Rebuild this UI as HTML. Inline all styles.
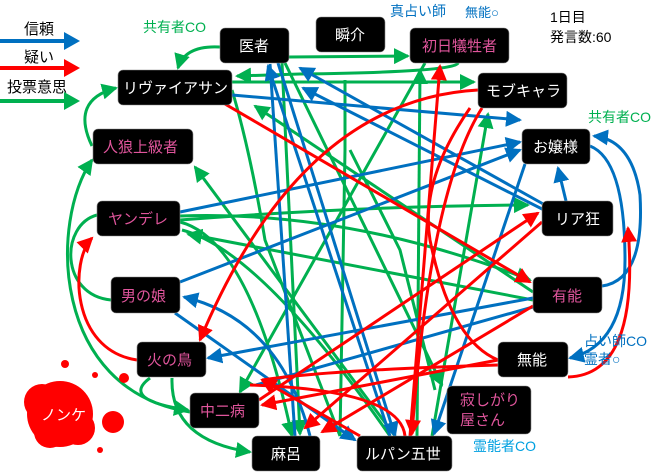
<!DOCTYPE html>
<html><head><meta charset="utf-8"><style>
html,body{margin:0;padding:0;background:#fff}
svg{display:block}
text{font-family:"Liberation Sans","Noto Sans CJK JP",sans-serif}
.n{fill:#000;stroke:#888;stroke-width:0.6}
.w{fill:#fff;font-size:15px}
.p{fill:#e0559c;font-size:15px}
.b path,.b line{stroke:#0070c0}
.r path,.r line{stroke:#ff0000}
.g path,.g line{stroke:#00b050}
g path,g line{fill:none;stroke-width:3}
</style></head><body>
<svg width="660" height="474" viewBox="0 0 660 474" xmlns="http://www.w3.org/2000/svg">
<defs>
<marker id="mb" markerUnits="userSpaceOnUse" markerWidth="16" markerHeight="16" refX="14" refY="8" orient="auto"><path d="M0,0 L16,8 L0,16 z" fill="#0070c0"/></marker>
<marker id="mr" markerUnits="userSpaceOnUse" markerWidth="16" markerHeight="16" refX="14" refY="8" orient="auto"><path d="M0,0 L16,8 L0,16 z" fill="#ff0000"/></marker>
<marker id="mg" markerUnits="userSpaceOnUse" markerWidth="16" markerHeight="16" refX="14" refY="8" orient="auto"><path d="M0,0 L16,8 L0,16 z" fill="#00b050"/></marker>
</defs>

<!-- legend -->
<text x="24" y="34" font-size="15" fill="#000">信頼</text>
<line x1="0" y1="41" x2="66" y2="41" stroke="#0070c0" stroke-width="4"/><path d="M64,32 L80,41 L64,50z" fill="#0070c0"/>
<text x="24" y="62" font-size="15" fill="#000">疑い</text>
<line x1="0" y1="68" x2="66" y2="68" stroke="#ff0000" stroke-width="4"/><path d="M64,59 L80,68 L64,77z" fill="#ff0000"/>
<text x="7" y="92" font-size="15" fill="#000">投票意思</text>
<line x1="0" y1="101" x2="66" y2="101" stroke="#00b050" stroke-width="4"/><path d="M64,92 L80,101 L64,110z" fill="#00b050"/>

<!-- green edges -->
<g class="g">
<path d="M220,47 Q185,45 178,68" marker-end="url(#mg)"/>
<path d="M92,146 Q70,100 116,88" marker-end="url(#mg)"/>
<path d="M289,57 L408,56" marker-end="url(#mg)"/>
<path d="M458,63 Q455,72 300,74 L237,76" marker-end="url(#mg)"/>
<path d="M232,82 L474,82" marker-end="url(#mg)"/>
<path d="M533,292 L255,106" marker-end="url(#mg)"/>
<path d="M282,63 L300,434" marker-end="url(#mg)"/>
<path d="M425,63 L240,392" marker-end="url(#mg)"/>
<path d="M417,436 L420,70" marker-end="url(#mg)"/>
<path d="M432,436 L488,114" marker-end="url(#mg)"/>
<path d="M285,63 L442,385" marker-end="url(#mg)"/>
<path d="M180,216 Q350,210 530,280" marker-end="url(#mg)"/>
<path d="M533,300 L188,234" marker-end="url(#mg)"/>
<path d="M395,436 L195,167" marker-end="url(#mg)"/>
<path d="M180,220 Q360,206 528,205" marker-end="url(#mg)"/>
<path d="M150,378 Q120,400 188,410" marker-end="url(#mg)"/>
<path d="M172,378 Q170,440 250,452" marker-end="url(#mg)"/>
<path d="M190,412 C50,390 50,220 92,160" marker-end="url(#mg)"/>
<path d="M111,300 C60,295 60,225 97,215"/>
<path d="M180,222 Q250,240 292,436" marker-end="url(#mg)"/>
<path d="M232,90 Q250,150 265,240 L340,436"/>
<path d="M340,436 L345,150 L345,80"/>
<path d="M435,390 L400,250 L350,150"/>
<path d="M182,230 Q260,250 390,436"/>
</g>

<!-- blue edges -->
<g class="b">
<path d="M390,436 L268,66" marker-end="url(#mb)"/>
<path d="M545,205 L300,68" marker-end="url(#mb)"/>
<path d="M548,212 L303,88" marker-end="url(#mb)"/>
<path d="M232,95 L520,120" marker-end="url(#mb)"/>
<path d="M180,212 L520,142" marker-end="url(#mb)"/>
<path d="M180,282 L520,150" marker-end="url(#mb)"/>
<path d="M566,201 L558,168" marker-end="url(#mb)"/>
<path d="M590,146 Q625,160 625,260 Q625,345 570,358" marker-end="url(#mb)"/>
<path d="M602,286 Q645,280 640,195 Q632,140 594,136" marker-end="url(#mb)"/>
<path d="M525,164 L434,434" marker-end="url(#mb)"/>
<path d="M533,298 L208,358" marker-end="url(#mb)"/>
<path d="M175,313 L355,440" marker-end="url(#mb)"/>
<path d="M310,436 Q280,320 184,297" marker-end="url(#mb)"/>
<path d="M278,63 L395,436" marker-end="url(#mb)"/>
<path d="M270,64 L295,436"/>
<path d="M540,305 L256,385"/>
</g>

<!-- red edges -->
<g class="r">
<path d="M225,104 L530,282" marker-end="url(#mr)"/>
<path d="M478,90 Q300,100 200,340" marker-end="url(#mr)"/>
<path d="M410,436 L440,66" marker-end="url(#mr)"/>
<path d="M482,108 Q430,190 412,434" marker-end="url(#mr)"/>
<path d="M137,360 C70,350 70,260 92,238" marker-end="url(#mr)"/>
<path d="M498,360 L262,405" marker-end="url(#mr)"/>
<path d="M542,222 L305,428" marker-end="url(#mr)"/>
<path d="M533,306 L322,432" marker-end="url(#mr)"/>
<path d="M259,400 L538,213" marker-end="url(#mr)"/>
<path d="M568,377 Q640,375 628,228" marker-end="url(#mr)"/>
<path d="M498,360 Q450,340 430,240 Q420,180 470,108"/>
<path d="M498,365 Q330,370 262,380"/>
<path d="M250,385 Q400,390 405,436"/>
<path d="M360,436 L262,380" marker-end="url(#mr)"/>
</g>

<!-- splat -->
<g fill="#ff0000">
<circle cx="60" cy="414" r="33"/>
<circle cx="42" cy="402" r="18"/>
<circle cx="78" cy="428" r="17"/>
<circle cx="50" cy="432" r="16"/>
<circle cx="113" cy="422" r="11"/>
<circle cx="65" cy="364" r="4"/>
<circle cx="95" cy="375" r="3"/>
<circle cx="124" cy="378" r="5"/>
<circle cx="100" cy="450" r="3"/>
<path d="M42,370 L46,385 L40,385z"/>
</g>
<text x="41" y="420" font-size="15" fill="#fff">ノンケ</text>

<!-- nodes -->
<rect class="n" x="220" y="28" width="69" height="35" rx="5"/><text class="w" x="239" y="51">医者</text>
<rect class="n" x="316" y="17" width="69" height="35" rx="5"/><text class="w" x="335" y="40">瞬介</text>
<rect class="n" x="410" y="28" width="99" height="35" rx="5"/><text class="p" x="422" y="51">初日犠牲者</text>
<rect class="n" x="118" y="70" width="114" height="35" rx="5"/><text class="w" x="123" y="93">リヴァイアサン</text>
<rect class="n" x="478" y="73" width="89" height="35" rx="5"/><text class="w" x="486" y="96">モブキャラ</text>
<rect class="n" x="93" y="129" width="100" height="35" rx="5"/><text class="p" x="103" y="152">人狼上級者</text>
<rect class="n" x="522" y="129" width="68" height="35" rx="5"/><text class="w" x="533" y="152">お嬢様</text>
<rect class="n" x="97" y="201" width="83" height="35" rx="5"/><text class="p" x="108" y="224">ヤンデレ</text>
<rect class="n" x="542" y="201" width="71" height="35" rx="5"/><text class="w" x="555" y="224">リア狂</text>
<rect class="n" x="533" y="277" width="69" height="36" rx="5"/><text class="p" x="552" y="301">有能</text>
<rect class="n" x="111" y="277" width="69" height="36" rx="5"/><text class="p" x="121" y="301">男の娘</text>
<rect class="n" x="137" y="342" width="69" height="35" rx="5"/><text class="p" x="147" y="365">火の鳥</text>
<rect class="n" x="498" y="342" width="70" height="35" rx="5"/><text class="w" x="517" y="365">無能</text>
<rect class="n" x="190" y="393" width="69" height="35" rx="5"/><text class="p" x="200" y="416">中二病</text>
<rect class="n" x="447" y="386" width="84" height="48" rx="5"/><text class="p" x="460" y="405">寂しがり</text><text class="p" x="460" y="425">屋さん</text>
<rect class="n" x="252" y="436" width="68" height="35" rx="5"/><text class="w" x="271" y="459">麻呂</text>
<rect class="n" x="357" y="436" width="95" height="35" rx="5"/><text class="w" x="365" y="459">ルパン五世</text>

<!-- labels -->
<text x="143" y="32" font-size="14" fill="#00b050">共有者CO</text>
<text x="390" y="16" font-size="14" fill="#0070c0">真占い師</text>
<text x="465" y="17" font-size="13" fill="#0070c0">無能○</text>
<text x="550" y="22" font-size="14" fill="#000">1日目</text>
<text x="550" y="42" font-size="14" fill="#000">発言数:60</text>
<text x="588" y="122" font-size="14" fill="#00b050">共有者CO</text>
<text x="584" y="346" font-size="14" fill="#0070c0">占い師CO</text>
<text x="584" y="364" font-size="14" fill="#0070c0">霊者○</text>
<text x="473" y="451" font-size="14" fill="#00a0e0">霊能者CO</text>
</svg>
</body></html>
